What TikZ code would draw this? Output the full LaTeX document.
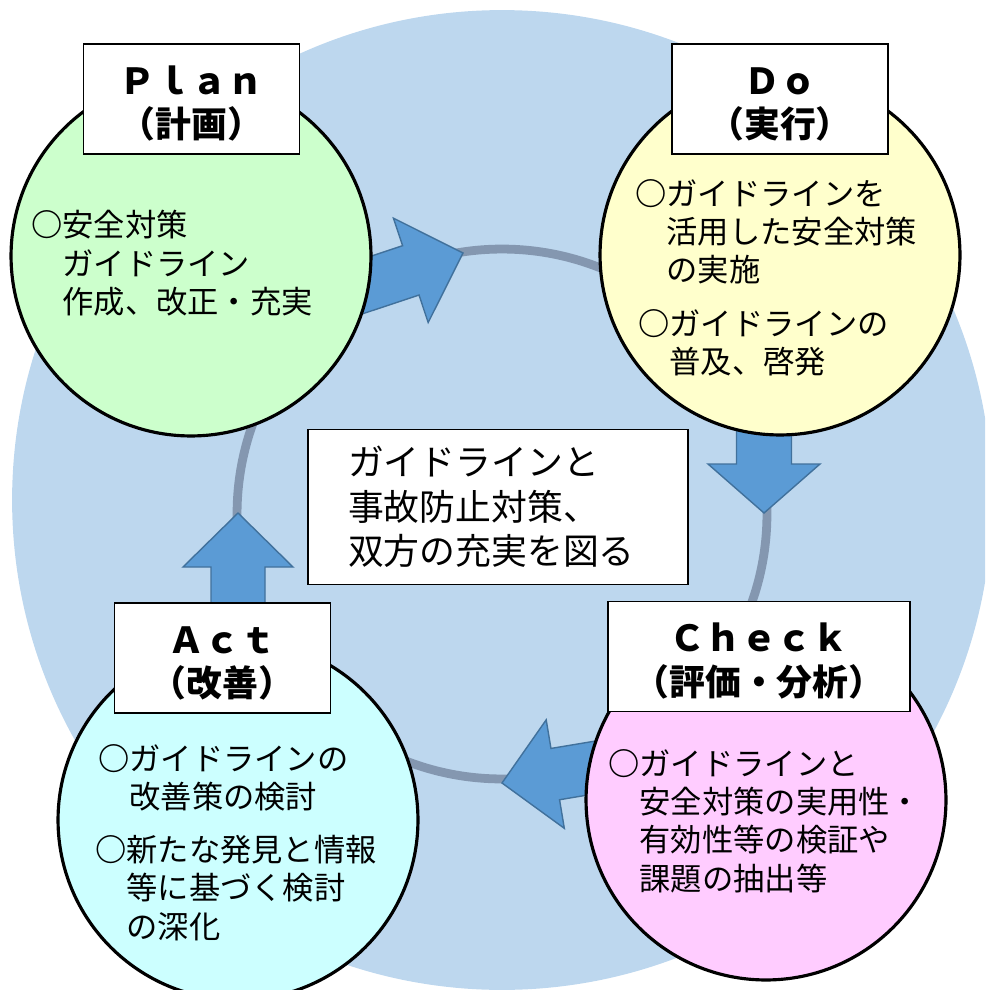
\documentclass[tikz,border=0pt]{standalone}
\usepackage{fontspec}
\setmainfont{Noto Sans CJK JP}
\definecolor{bgblue}{HTML}{BDD7EE}
\definecolor{ringgray}{HTML}{8497B0}
\definecolor{arrowfill}{HTML}{5B9BD5}
\definecolor{arrowedge}{HTML}{41719C}
\definecolor{plangreen}{HTML}{CCFFCC}
\definecolor{doyellow}{HTML}{FFFFCC}
\definecolor{checkpink}{HTML}{FFCCFF}
\definecolor{actcyan}{HTML}{CCFFFF}
\newcommand\halfp[1]{{\addfontfeature{RawFeature=+halt}#1}}
\newcommand\indentsp{\hspace*{1em}}
\newcommand\bul{{\bfseries ○}}
\newcommand\titlestrut{\rule{0pt}{1.05em}}
\tikzset{
  phase/.style={circle, draw=black, line width=1.8pt, minimum size=7.2cm, inner sep=0pt},
  titlebox/.style={rectangle, draw=black, fill=white, line width=1.1pt, minimum width=4.32cm,
    minimum height=2.2cm, inner sep=0pt, align=center, font=\fontsize{20.4}{25}\selectfont\bfseries},
  bodytext/.style={anchor=north west, inner sep=0pt, align=left, font=\fontsize{17.8}{21.8}\selectfont},
  cyclearrow/.style={fill=arrowfill, draw=arrowedge, line width=0.8pt},
}
\begin{document}
\begin{tikzpicture}[x=0.02cm, y=-0.02cm]
  \useasboundingbox (0,0) rectangle (985,990);
  \clip (0,0) rectangle (985,990);
  \fill[bgblue] (502,500) circle [radius=9.8cm];
  \draw[ringgray, line width=5pt] (502,514) circle [radius=5.3cm];
  % arrow tips sit on the ring
  \coordinate (pdtip) at (463,253);
  \coordinate (dctip) at (764,513);
  \coordinate (catip) at (502,783);
  \coordinate (aptip) at (238,513);
  \foreach \tip/\ang/\hl/\hw/\sw/\len in {pdtip/18.4/55/55/26/140, dctip/-90/49/56/27.5/110,
      catip/189.5/54/55/26/120, aptip/90/54/55/27/120}
    \draw[cyclearrow, shift={(\tip)}, rotate=\ang] (0,0) -- (-\hl,\hw) -- (-\hl,\sw) -- (-\len,\sw)
      -- (-\len,-\sw) -- (-\hl,-\sw) -- (-\hl,-\hw) -- cycle;
  % the four phases
  \node[phase, fill=plangreen] (plan) at (191,256) {};
  \node[phase, fill=doyellow] (do) at (780,255) {};
  \node[phase, fill=actcyan] (act) at (238,820) {};
  \node[phase, fill=checkpink] (check) at (766,800) {};
  \node[titlebox] (plantitle) at (191.5,99) {\titlestrut Ｐｌａｎ\\\halfp{（}計画\halfp{）}};
  \node[titlebox] (dotitle) at (780,99) {\titlestrut Ｄｏ\\\halfp{（}実行\halfp{）}};
  \node[titlebox] (acttitle) at (222.5,658) {\titlestrut Ａｃｔ\\\halfp{（}改善\halfp{）}};
  \node[titlebox, minimum width=6.04cm] (checktitle) at (759,656.5) {\titlestrut Ｃｈｅｃｋ\\\halfp{（}評価・分析\halfp{）}};
  \node[bodytext] (plantext) at (31,210) {\bul 安全対策\\\indentsp ガイドライン\\\indentsp 作成、改正・充実};
  \node[bodytext] (dotext1) at (635,179) {\bul ガイドラインを\\\indentsp 活用した安全対策\\\indentsp の実施};
  \node[bodytext] (dotext2) at (638,309) {\bul ガイドラインの\\\indentsp 普及、啓発};
  \node[bodytext] (acttext1) at (98,744) {\bul ガイドラインの\\\indentsp 改善策の検討};
  \node[bodytext] (acttext2) at (95,835) {\bul 新たな発見と情報\\\indentsp 等に基づく検討\\\indentsp の深化};
  \node[bodytext] (checktext) at (608,749) {\bul ガイドラインと\\\indentsp 安全対策の実用性・\\\indentsp 有効性等の検証や\\\indentsp 課題の抽出等};
  % centre message
  \node[draw=black, fill=white, line width=1.1pt, minimum width=7.6cm, minimum height=3.1cm,
    inner xsep=0.8cm, text width=6cm, align=left, font=\fontsize{20.4}{25.3}\selectfont] (goal)
    at (498,507) {ガイドラインと\\事故防止対策、\\双方の充実を図る};
\end{tikzpicture}
\end{document}
